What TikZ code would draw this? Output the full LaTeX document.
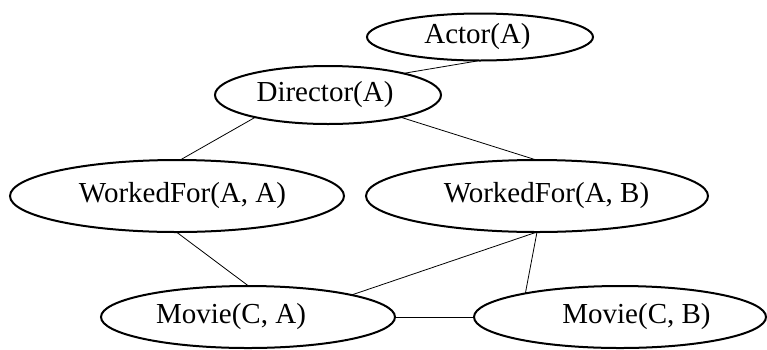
\documentclass[tikz,border=0pt]{standalone}
\usepackage{fontspec}
\setmainfont{Liberation Serif}
\usetikzlibrary{shapes.geometric}
\tikzset{
  ell/.style={draw, ellipse, line width=2pt, inner sep=0pt, outer sep=0pt,
    font=\fontsize{29}{34}\selectfont},
  edge/.style={line width=0.8pt}
}
\begin{document}
\begin{tikzpicture}[x=1pt,y=-1pt]
\useasboundingbox (0,0) rectangle (767,349);
\node[ell, minimum width=226pt, minimum height=47pt] (actor) at (480,37) {\hspace*{-5pt}Actor(A)};
\node[ell, minimum width=226pt, minimum height=58pt] (dir) at (328,95) {\hspace*{-6pt}Director(A)};
\node[ell, minimum width=334pt, minimum height=72pt] (wfaa) at (177,196) {WorkedFor(A, A)\hspace*{-11pt}};
\node[ell, minimum width=342pt, minimum height=72pt] (wfab) at (537,196) {WorkedFor(A, B)\hspace*{-19pt}};
\node[ell, minimum width=294pt, minimum height=62pt] (mca) at (248,317) {\hspace*{-34pt}Movie(C, A)};
\node[ell, minimum width=292pt, minimum height=62pt] (mcb) at (620,317) {Movie(C, B)\hspace*{-33pt}};
\draw[edge] (dir.16) -- (actor.south);
\draw[edge] (dir.197) -- (wfaa.85);
\draw[edge] (dir.-17) -- (wfab.91);
\draw[edge] (wfaa.-91) -- (mca.89);
\draw[edge] (wfab.-90) -- (mca.12.6);
\draw[edge] (wfab.-90) -- (mcb.166.5);
\draw[edge] (mca.east) -- (mcb.west);
\end{tikzpicture}
\end{document}
